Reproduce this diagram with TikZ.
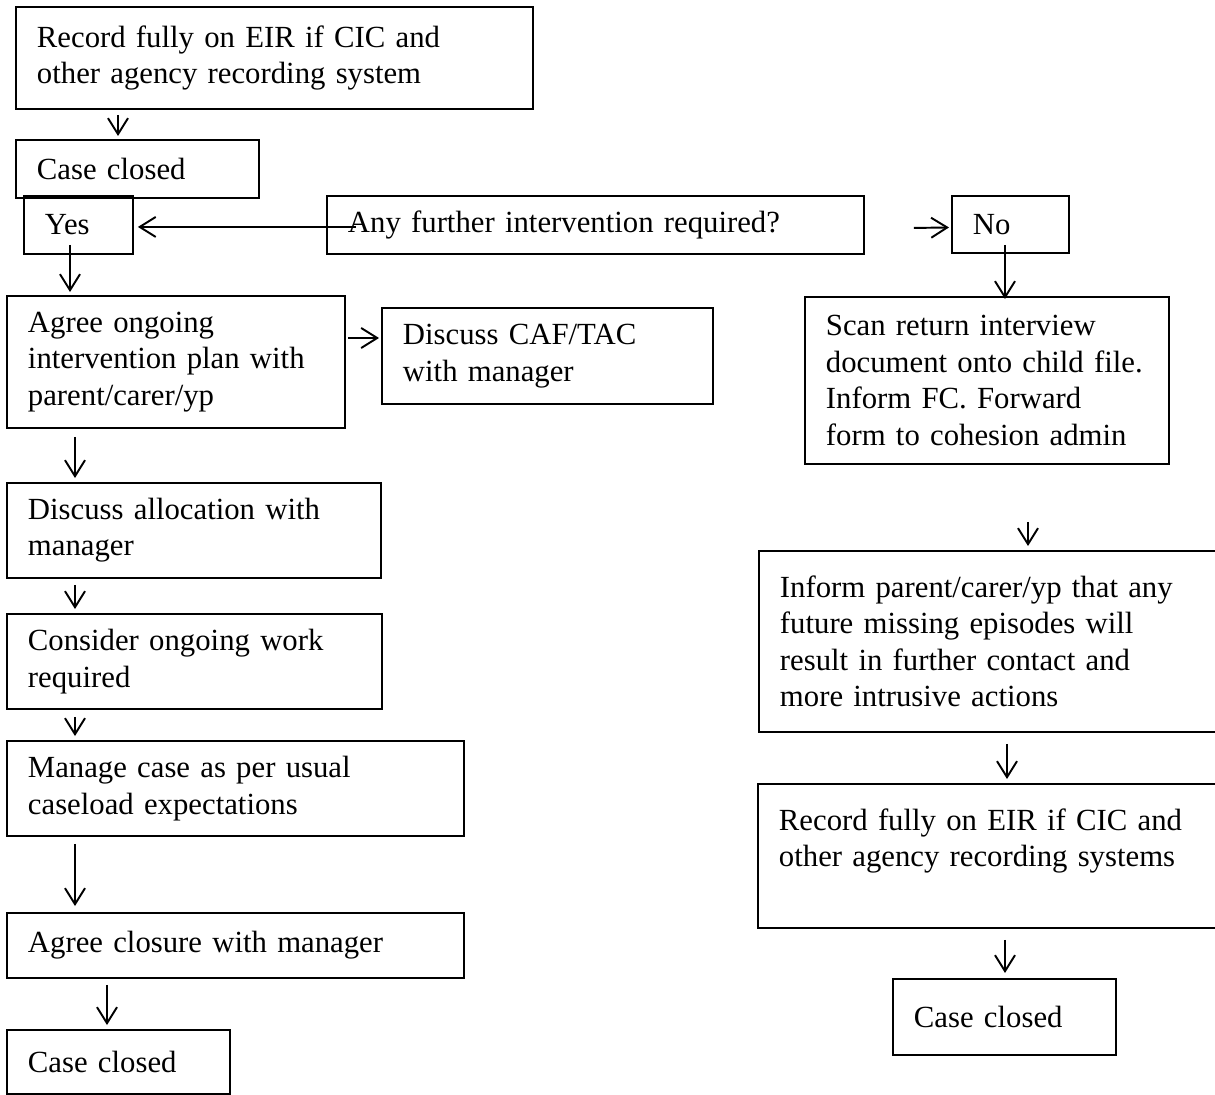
\documentclass[tikz,border=0pt]{standalone}
\usepackage{fontspec}
\setmainfont{Liberation Serif}
\usetikzlibrary{arrows.meta, calc}

\begin{document}
\begin{tikzpicture}[x=0.02cm, y=-0.02cm,
  flowbox/.style 2 args={draw, line width=1.1pt, anchor=north west, align=left, inner xsep=0.42cm, inner ysep=0pt, text width=#1, minimum height=#2, font=\fontsize{17.5pt}{20.7pt}\selectfont},
  flowarrow/.style={-{Straight Barb[length=0.32cm, width=0.4cm]}, line width=1.1pt}
]
  \useasboundingbox (0,0) rectangle (1215,1095);

  % Top of the chart
  \node[flowbox={9.50cm}{2.04cm}] (rec1) at (15,6) {Record fully on EIR if CIC and\\other agency recording system};
  \node[flowbox={4.02cm}{1.16cm}] (cc1) at (15,139) {Case closed};
  \node[flowbox={1.34cm}{1.16cm}] (yes) at (23,195) {Yes};
  \node[flowbox={9.90cm}{1.16cm}] (any) at (326,195) {Any further intervention required?};
  \node[flowbox={1.50cm}{1.14cm}] (no) at (951,195) {No};

  % Yes branch
  \node[flowbox={5.92cm}{2.64cm}] (agree) at (6,295) {Agree ongoing\\intervention plan with\\parent/carer/yp};
  \node[flowbox={5.78cm}{1.92cm}] (caf) at (381,307) {Discuss CAF/TAC\\with manager};
  \node[flowbox={6.64cm}{1.90cm}] (alloc) at (6,482) {Discuss allocation with\\manager};
  \node[flowbox={6.66cm}{1.90cm}] (consider) at (6,613) {Consider ongoing work\\required};
  \node[flowbox={8.30cm}{1.90cm}] (manage) at (6,740) {Manage case as per usual\\caseload expectations};
  \node[flowbox={8.30cm}{1.30cm}] (closure) at (6,912) {Agree closure with manager};
  \node[flowbox={3.62cm}{1.28cm}] (ccl) at (6,1029) {Case closed};

  % No branch
  \node[flowbox={6.44cm}{3.34cm}] (scan) at (804,296) {Scan return interview\\\mbox{document onto child file.}\\Inform FC. Forward\\form to cohesion admin};
  \node[flowbox={8.50cm}{3.62cm}] (inform) at (758,550) {Inform parent/carer/yp that any\\future missing episodes will\\result in further contact and\\more intrusive actions};
  \node[flowbox={8.52cm}{2.88cm}] (rec2) at (757,783) {Record fully on EIR if CIC and\\other agency recording systems\\\mbox{}};
  \node[flowbox={3.62cm}{1.52cm}] (ccr) at (892,978) {Case closed};

  % Arrows
  \draw[flowarrow] ($(rec1.south west)+(103,5)$) -- ($(cc1.north west)+(103,-3)$);
  \draw[flowarrow] ($(any.west)+(30,2)$) -- ($(yes.east)+(4,2)$);
  \draw[flowarrow] ($(any.east)+(49,3)$) -- ($(no.west)+(-2,3)$);
  \draw[flowarrow] ($(no.south west)+(54,-9)$) -- ($(scan.north west)+(201,3)$);
  \draw[flowarrow] ($(yes.south west)+(47,-10)$) -- ($(agree.north west)+(64,-3)$);
  \draw[flowarrow] ($(agree.north east)+(2,43)$) -- ($(caf.north west)+(-2,31)$);
  \draw[flowarrow] ($(agree.south west)+(69,8)$) -- ($(alloc.north west)+(69,-4)$);
  \draw[flowarrow] ($(alloc.south west)+(69,6)$) -- ($(consider.north west)+(69,-4)$);
  \draw[flowarrow] ($(consider.south west)+(69,7)$) -- ($(manage.north west)+(69,-4)$);
  \draw[flowarrow] ($(manage.south west)+(69,7)$) -- ($(closure.north west)+(69,-6)$);
  \draw[flowarrow] ($(closure.south west)+(101,6)$) -- ($(ccl.north west)+(101,-4)$);
  \draw[flowarrow] ($(scan.south west)+(224,57)$) -- ($(inform.north west)+(270,-4)$);
  \draw[flowarrow] ($(inform.south west)+(249,11)$) -- ($(rec2.north west)+(250,-4)$);
  \draw[flowarrow] ($(rec2.south west)+(248,11)$) -- ($(ccr.north west)+(113,-5)$);
\end{tikzpicture}
\end{document}
